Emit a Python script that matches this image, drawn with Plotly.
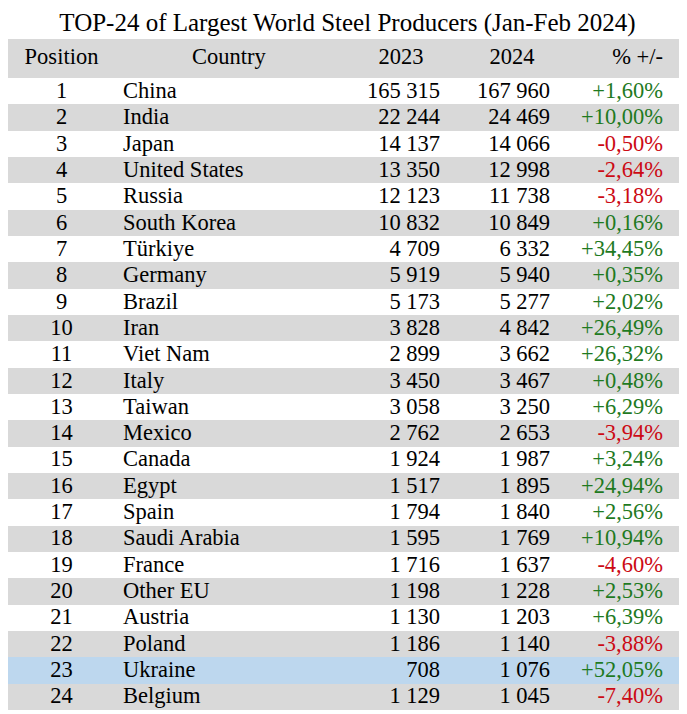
import plotly.graph_objects as go

positions = list(range(1, 25))
countries = ["China", "India", "Japan", "United States", "Russia", "South Korea",
             "Türkiye", "Germany", "Brazil", "Iran", "Viet Nam", "Italy", "Taiwan",
             "Mexico", "Canada", "Egypt", "Spain", "Saudi Arabia", "France",
             "Other EU", "Austria", "Poland", "Ukraine", "Belgium"]
v2023 = [165315, 22244, 14137, 13350, 12123, 10832, 4709, 5919, 5173, 3828, 2899,
         3450, 3058, 2762, 1924, 1517, 1794, 1595, 1716, 1198, 1130, 1186, 708, 1129]
v2024 = [167960, 24469, 14066, 12998, 11738, 10849, 6332, 5940, 5277, 4842, 3662,
         3467, 3250, 2653, 1987, 1895, 1840, 1769, 1637, 1228, 1203, 1140, 1076, 1045]
pct = [1.60, 10.00, -0.50, -2.64, -3.18, 0.16, 34.45, 0.35, 2.02, 26.49, 26.32,
       0.48, 6.29, -3.94, 3.24, 24.94, 2.56, 10.94, -4.60, 2.53, 6.39, -3.88,
       52.05, -7.40]
headers = ["Position", "Country\u00a0\u00a0", "2023", "", "2024", "% +/-", ""]
highlight = "Ukraine"

NBSP = "\u00a0"

def fmt_num(v):
    return f"{v:,}".replace(",", NBSP)

def fmt_pct(p):
    return f"{p:+.2f}%".replace(".", ",")

n = len(countries)
GREY = "#d9d9d9"
WHITE = "#ffffff"
BLUE = "#bdd7ee"
GREEN = "#1f7a1f"
RED = "#cc0a14"
CLEAR = "rgba(0,0,0,0)"

row_fill = []
for i, c in enumerate(countries):
    if c == highlight:
        row_fill.append(BLUE)
    elif i % 2 == 1:
        row_fill.append(GREY)
    else:
        row_fill.append(WHITE)

pct_colors = [GREEN if p >= 0 else RED for p in pct]
black = ["#000000"] * n
blank = [""] * n

cols = [
    [str(p) for p in positions],
    countries,
    [fmt_num(v) for v in v2023],
    blank,
    [fmt_num(v) for v in v2024],
    [fmt_pct(p) for p in pct],
    blank,
]
ncol = len(cols)

W = 679
H = 706
# column edges in figure px (page is offset by the 8px body margin)
edges = [0, 107, 346, 440, 458, 550, 663, 675]
widths = [edges[i + 1] - edges[i] for i in range(len(edges) - 1)]

font_family = "Liberation Serif, Times New Roman, serif"
FS = 22.5
HEADER_H = 39
ROW_H = 26.33
TEXT_LIFT = 5

# background layer: fills only
bg = go.Table(
    columnwidth=widths,
    header=dict(values=[""] * ncol, fill_color=GREY,
                line=dict(width=0, color=GREY), height=HEADER_H,
                font=dict(family=font_family, size=FS)),
    cells=dict(values=[blank] * ncol, fill_color=[row_fill] * ncol,
               line=dict(width=0, color=WHITE), height=ROW_H,
               font=dict(family=font_family, size=FS)),
)

# text layer: transparent, rows lifted slightly so text sits centred in rows
fg = go.Table(
    columnwidth=widths,
    header=dict(
        values=headers,
        fill_color=CLEAR,
        line=dict(width=0, color=CLEAR),
        align=["center", "center", "center", "center", "center", "right", "center"],
        font=dict(family=font_family, size=FS, color="#000000"),
        height=HEADER_H - TEXT_LIFT,
    ),
    cells=dict(
        values=cols,
        fill_color=CLEAR,
        line=dict(width=0, color=CLEAR),
        align=["center", "left", "right", "right", "right", "right", "right"],
        font=dict(family=font_family, size=FS,
                  color=[black, black, black, black, black, pct_colors, black]),
        height=ROW_H,
    ),
)

fig = go.Figure([bg, fg])

fig.update_layout(
    width=W, height=H,
    margin=dict(l=0, r=W - edges[-1], t=31, b=0, pad=0),
    paper_bgcolor="#ffffff",
    title=dict(
        text="TOP-24 of Largest World Steel Producers (Jan-Feb 2024)",
        font=dict(family=font_family, size=25, color="#000000"),
        x=(edges[0] + edges[-1]) / 2 / W + 2 / W, xanchor="center",
        yref="container", y=1 - 14 / H, yanchor="middle",
    ),
)

fig.write_html("out.html")
